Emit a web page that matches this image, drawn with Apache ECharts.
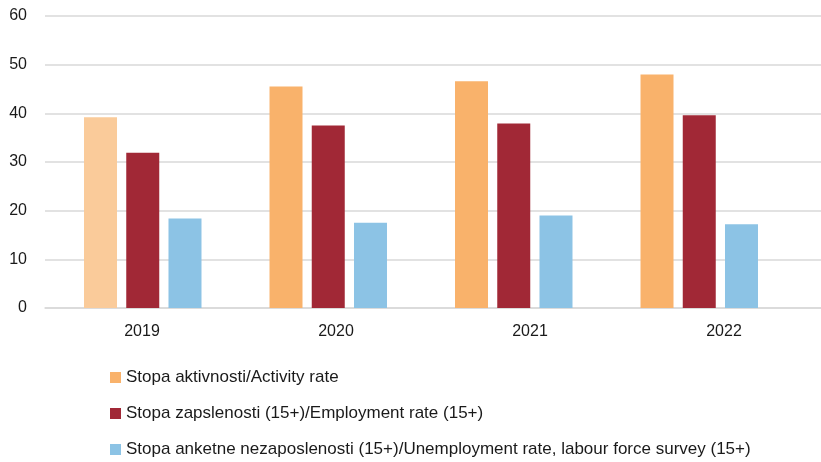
<!DOCTYPE html>
<html>
<head>
<meta charset="utf-8">
<script src="https://cdn.jsdelivr.net/npm/echarts@6/dist/echarts.min.js"></script>
<style>
  html, body { margin: 0; padding: 0; background: #fff; }
  #chart { width: 821px; height: 462px; }
</style>
</head>
<body>
<div id="chart"></div>
<script>
// podaci
const years = ['2019', '2020', '2021', '2022']
const activityRate = [39.2, 45.5, 46.6, 48.0]
const employmentRate = [31.9, 37.5, 37.9, 39.6]
const unemploymentRate = [18.4, 17.5, 19.0, 17.2]
const yTicks = [0, 60, 10] // min, max, interval

const seriesNames = [
  'Stopa aktivnosti/Activity rate',
  'Stopa zapslenosti (15+)/Employment rate (15+)',
  'Stopa anketne nezaposlenosti (15+)/Unemployment rate, labour force survey (15+)'
]

const orange = '#F9B26B'
const orangeLight = '#FACB9A'
const red = '#A12836'
const blue = '#8CC3E5'

const chart = echarts.init(document.getElementById('chart'))

const font = 'Liberation Sans, Arial, sans-serif'

const option = {
  animation: false,
  textStyle: { fontFamily: font },
  // grid 0: osi i mreža, grid 1: stupci
  grid: [
    { left: 45, right: 0, top: 16, bottom: 154 },
    { left: 50, right: 29, top: 16, bottom: 154 }
  ],
  legend: {
    orient: 'vertical',
    left: 110,
    top: 369,
    height: 100,
    padding: 0,
    itemWidth: 11,
    itemHeight: 11,
    itemGap: 19,
    icon: 'rect',
    textStyle: { fontSize: 17, color: '#1a1a1a', fontFamily: font },
    data: seriesNames
  },
  xAxis: [
    {
      type: 'category',
      gridIndex: 0,
      data: years,
      axisTick: { show: false },
      axisLine: { lineStyle: { color: '#d9d9d9', width: 1.5 } },
      axisLabel: { fontSize: 16, color: '#1a1a1a', margin: 16 }
    },
    {
      type: 'category',
      gridIndex: 1,
      data: years,
      show: false
    }
  ],
  yAxis: [
    {
      type: 'value',
      gridIndex: 0,
      min: yTicks[0],
      max: yTicks[1],
      interval: yTicks[2],
      axisLine: { show: false },
      axisTick: { show: false },
      axisLabel: { fontSize: 16, color: '#1a1a1a', margin: 18 },
      splitLine: { lineStyle: { color: '#d9d9d9', width: 1.5 } }
    },
    {
      type: 'value',
      gridIndex: 1,
      min: yTicks[0],
      max: yTicks[1],
      show: false,
      splitLine: { show: false }
    }
  ],
  series: [
    {
      name: seriesNames[0],
      type: 'bar',
      xAxisIndex: 1,
      yAxisIndex: 1,
      barWidth: 33,
      barGap: '28%',
      itemStyle: { color: orange },
      data: activityRate.map((v, i) => i === 0 ? { value: v, itemStyle: { color: orangeLight } } : v)
    },
    {
      name: seriesNames[1],
      type: 'bar',
      xAxisIndex: 1,
      yAxisIndex: 1,
      barWidth: 33,
      barGap: '28%',
      itemStyle: { color: red },
      data: employmentRate
    },
    {
      name: seriesNames[2],
      type: 'bar',
      xAxisIndex: 1,
      yAxisIndex: 1,
      barWidth: 33,
      barGap: '28%',
      itemStyle: { color: blue },
      data: unemploymentRate
    }
  ]
}

chart.setOption(option)
</script>
</body>
</html>
